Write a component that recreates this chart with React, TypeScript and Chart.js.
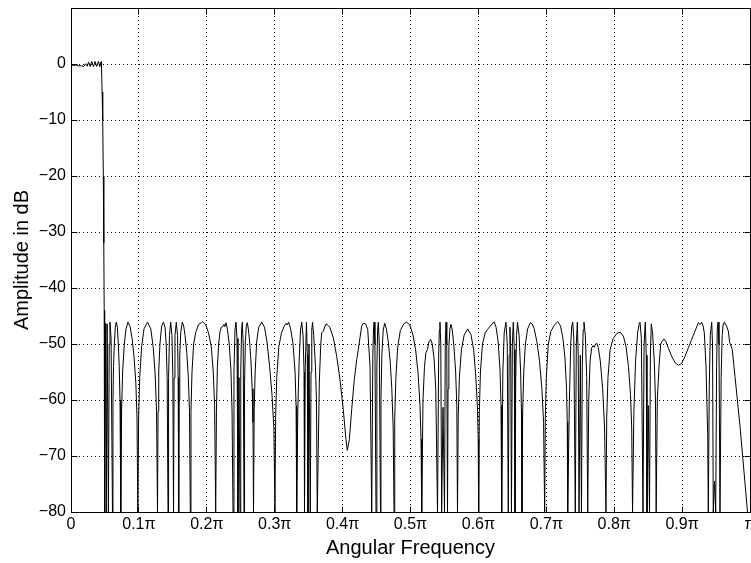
import { useEffect, useRef } from 'react';
import { Chart, registerables } from 'chart.js';

Chart.register(...registerables);

type Pt = [number, number]; // [normalized frequency (×π rad/sample), magnitude in dB]

const passband: Pt[] = [
  [0.0, -0.2], [0.004, -0.25], [0.008, -0.2], [0.0115, -0.35], [0.015, -0.3],
  [0.0185, -0.45], [0.0215, 0.05], [0.024, -0.4], [0.0258, 0.35], [0.0282, -0.45],
  [0.0305, 0.45], [0.033, -0.45], [0.0354, 0.45], [0.0378, -0.45], [0.0403, 0.45],
  [0.0425, -0.45], [0.0442, 0.4],
];

const transitionBand: Pt[] = [
  [0.045, -1], [0.0458, -5], [0.0467, -10], [0.0476, -20], [0.0483, -32],
  [0.0489, -44], [0.0492, -46],
];

const stopbandLow: Pt[] = [
  [0.0499, -80], [0.051, -46.3], [0.052, -80], [0.0532, -46.4], [0.0551, -80],
  [0.0563, -50], [0.0574, -46.1], [0.059, -49], [0.0611, -80],
  [0.0618, -60], [0.0626, -54], [0.0638, -50], [0.0652, -47], [0.0667, -46.1], [0.0683, -47],
  [0.0697, -50], [0.071, -54], [0.0722, -60], [0.0733, -80],
  [0.0745, -62], [0.076, -55], [0.0785, -50], [0.081, -47.3], [0.0839, -46.1], [0.087, -46.9],
  [0.09, -49], [0.093, -52.5], [0.0955, -57], [0.0972, -63], [0.0984, -80],
  [0.0996, -63], [0.1012, -56], [0.104, -50.5], [0.1075, -47.3], [0.1127, -46.1], [0.1175, -47.3],
  [0.121, -50.5], [0.124, -55.5], [0.126, -62], [0.1274, -80],
  [0.1282, -62], [0.1292, -55], [0.131, -50], [0.1335, -46.8], [0.1362, -46.1], [0.1385, -47],
  [0.1402, -50], [0.1416, -56], [0.1429, -80],
  [0.1437, -56], [0.145, -48.5], [0.1468, -46.1], [0.1487, -48.5], [0.15, -56], [0.151, -80],
  [0.1518, -56], [0.1531, -48.5], [0.1551, -46.1], [0.1569, -48.5], [0.1578, -56], [0.1586, -80],
  [0.1592, -60], [0.1602, -52], [0.1616, -48], [0.1639, -46.1], [0.166, -46.8], [0.168, -48.5],
  [0.1705, -51.5], [0.1728, -56], [0.1745, -62], [0.1757, -80],
  [0.1767, -62], [0.1782, -55], [0.1806, -50], [0.184, -47.8], [0.188, -46.5], [0.192, -46.2],
  [0.194, -46.0], [0.196, -46.3], [0.1985, -46.6], [0.2025, -48], [0.2066, -50.5], [0.2095, -55],
  [0.2115, -61], [0.2131, -80],
  [0.2142, -62], [0.2156, -54], [0.2175, -50], [0.2195, -47.8], [0.2214, -47], [0.2235, -46.9],
  [0.2253, -46.5], [0.2265, -46.9], [0.2283, -46.2], [0.2305, -47.5], [0.233, -50], [0.2355, -54.5],
  [0.2372, -62], [0.2386, -80],
  [0.24, -55], [0.2415, -47.5], [0.243, -46.1], [0.2445, -49], [0.2459, -80], [0.2474, -56],
  [0.2489, -80], [0.25, -55], [0.2512, -47.5], [0.2523, -46.1], [0.2536, -50], [0.2548, -80],
  [0.2556, -57], [0.2568, -49.5], [0.2582, -46.8], [0.2596, -46.2], [0.2612, -47.3], [0.263, -49.5],
  [0.265, -53], [0.2668, -58], [0.268, -64], [0.2688, -80],
  [0.2698, -62], [0.2712, -55], [0.2735, -49.5], [0.2765, -47], [0.2809, -46.1], [0.285, -47],
  [0.2885, -49.5], [0.2925, -54], [0.296, -59], [0.2988, -65], [0.3004, -80],
  [0.3014, -63], [0.303, -56], [0.306, -50.5], [0.31, -48], [0.314, -46.8], [0.317, -46.3],
  [0.3185, -46.6], [0.3205, -46.1], [0.3235, -47.3], [0.327, -50], [0.33, -55], [0.3315, -61],
  [0.3324, -80],
  [0.334, -62], [0.336, -53], [0.338, -47.5], [0.3398, -46.1], [0.3418, -48.5], [0.3432, -55],
  [0.3439, -80], [0.345, -54], [0.3468, -46.1], [0.348, -52], [0.349, -80], [0.3505, -50],
  [0.3524, -80], [0.3535, -55], [0.3546, -47.5], [0.3557, -46.1], [0.3575, -48.5], [0.36, -54],
  [0.3615, -60], [0.3627, -80],
];

const stopbandMid: Pt[] = [
  [0.3657, -57], [0.3677, -50.4], [0.3692, -48], [0.3716, -47.7], [0.3741, -46.8], [0.3756, -46.4],
  [0.3789, -46.7], [0.3814, -47.1], [0.3863, -48.9], [0.3913, -52.2], [0.3962, -56.4], [0.401, -61.7],
  [0.405, -67.1], [0.4069, -69], [0.4099, -67.1], [0.4134, -61.7], [0.4172, -56.4], [0.4208, -52.8],
  [0.4231, -51], [0.4256, -48.9], [0.4281, -46.8], [0.4305, -46.3], [0.434, -46.4], [0.437, -47.4],
  [0.4404, -54], [0.4429, -80],
  [0.4445, -52], [0.4455, -47.5], [0.4463, -46.1], [0.4476, -50], [0.4492, -80], [0.4505, -54],
  [0.4516, -47.5], [0.4526, -46.1], [0.454, -50], [0.4558, -80],
  [0.4565, -60], [0.4578, -52], [0.4598, -47.5], [0.462, -46.3], [0.4645, -47.3], [0.4672, -49.5],
  [0.47, -53], [0.4725, -58], [0.4745, -65], [0.4757, -80],
  [0.4768, -63], [0.4785, -56], [0.4812, -50.5], [0.485, -47.6], [0.49, -46.4], [0.4944, -46.1],
  [0.499, -46.6], [0.5035, -48.3], [0.5075, -51], [0.511, -55], [0.514, -61], [0.5155, -67],
  [0.5165, -80],
  [0.5184, -60], [0.5206, -54], [0.5228, -51.5], [0.525, -51], [0.5272, -49.6], [0.5297, -49.2],
  [0.5321, -50], [0.5346, -52.5], [0.5372, -58], [0.5398, -80],
  [0.5415, -52], [0.5425, -47.5], [0.5434, -46.1], [0.5446, -50], [0.5459, -80], [0.5479, -61.3],
  [0.5501, -80], [0.5512, -50], [0.5523, -46.1], [0.5534, -50], [0.5545, -80],
  [0.5553, -58], [0.5565, -50.5], [0.558, -47.3], [0.5596, -46.5], [0.5615, -47.5], [0.564, -50.5],
  [0.5665, -55], [0.5682, -61], [0.5692, -80],
  [0.5703, -63], [0.572, -56], [0.575, -51], [0.579, -48.4], [0.5842, -47.3], [0.589, -48.3],
  [0.593, -51], [0.596, -55.5], [0.5985, -61], [0.5997, -67], [0.6004, -80],
  [0.6014, -62], [0.603, -55], [0.606, -50], [0.61, -48], [0.6135, -47.4], [0.616, -47],
  [0.619, -46.6], [0.6215, -46.2], [0.6234, -46.1], [0.626, -47], [0.629, -49.5], [0.6318, -54.5],
  [0.6333, -61], [0.6343, -80],
  [0.636, -55], [0.638, -48], [0.6406, -46.1], [0.6425, -50], [0.644, -80], [0.6453, -52],
  [0.6465, -47], [0.6476, -52], [0.6487, -80], [0.65, -50], [0.6514, -46.1], [0.6528, -51],
  [0.6539, -80], [0.655, -56], [0.6562, -48.5], [0.6576, -46.1], [0.66, -48.5], [0.6622, -55],
  [0.6634, -62], [0.6642, -80],
];

const stopbandHigh: Pt[] = [
  [0.6652, -62], [0.6668, -55], [0.6692, -50], [0.6725, -47.3], [0.6765, -46.2], [0.679, -46.4],
  [0.682, -47.2], [0.686, -49.5], [0.69, -53], [0.6935, -58], [0.696, -64], [0.6976, -80],
  [0.6986, -63], [0.7, -56], [0.7028, -50.2], [0.7065, -47.8], [0.711, -46.8], [0.715, -46.2],
  [0.717, -46.0], [0.719, -46.4], [0.721, -46.8], [0.7245, -49], [0.7275, -52.5], [0.7298, -58],
  [0.7309, -64], [0.7315, -80],
  [0.734, -60], [0.736, -50], [0.7375, -46.8], [0.7389, -46.1], [0.7405, -49], [0.7427, -80],
  [0.7442, -50], [0.7457, -46.1], [0.747, -52], [0.7482, -80], [0.7501, -52], [0.7518, -80],
  [0.753, -54], [0.7543, -47.5], [0.7555, -46.1], [0.7575, -48.5], [0.7595, -56], [0.761, -80],
  [0.7625, -60], [0.7645, -53], [0.7668, -50.7], [0.7688, -50.3], [0.7705, -50.6], [0.7725, -50],
  [0.7745, -49.9], [0.7765, -50.6], [0.7795, -53], [0.783, -58], [0.7858, -65], [0.7879, -80],
  [0.789, -63], [0.7908, -56], [0.794, -51], [0.7985, -49], [0.804, -48.1], [0.809, -47.9],
  [0.8135, -48.6], [0.8175, -50.5], [0.821, -54], [0.824, -59], [0.8258, -65], [0.827, -80],
  [0.829, -62], [0.8315, -53], [0.8345, -48], [0.837, -46.3], [0.838, -46.1], [0.84, -49],
  [0.8424, -80], [0.844, -50], [0.8458, -46.1], [0.8472, -52], [0.8483, -80], [0.8502, -61],
  [0.852, -80], [0.8533, -52], [0.8546, -46.4], [0.8565, -48], [0.859, -53], [0.8608, -60],
  [0.8618, -80],
  [0.8635, -60], [0.866, -54], [0.8685, -50], [0.8708, -49.5], [0.8733, -49.1], [0.8759, -49.5],
  [0.88, -50.8], [0.885, -52.3], [0.89, -53.4], [0.8944, -53.8], [0.899, -53.5], [0.9043, -52.2],
  [0.9095, -50.6], [0.9141, -49.2], [0.919, -47.7], [0.9239, -46.2], [0.9264, -46.5], [0.9289, -46.1],
  [0.931, -46.8], [0.9327, -48], [0.9352, -54], [0.9377, -66], [0.9386, -80],
  [0.94, -58], [0.9415, -48.5], [0.9436, -46.1], [0.9448, -50], [0.9459, -80], [0.9477, -74.5],
  [0.9495, -80], [0.9508, -54], [0.9518, -47.5], [0.9529, -46.1], [0.9543, -50], [0.9558, -80],
  [0.9575, -56], [0.959, -48.5], [0.9605, -46.5], [0.9617, -46.1], [0.9635, -46.3], [0.9655, -46.8],
  [0.9681, -47.7], [0.97, -49.7], [0.9712, -50], [0.9739, -51], [0.9779, -55.8], [0.9853, -64.7],
  [0.9926, -74.8], [0.9963, -80], [1.0, -88],
];

const freqTickLabels = ['0', '0.1π', '0.2π', '0.3π', '0.4π', '0.5π', '0.6π', '0.7π', '0.8π', '0.9π', 'π'];
const ampTickValues = [-80, -70, -60, -50, -40, -30, -20, -10, 0];

const FONT = "'Liberation Sans', Arial, Helvetica, sans-serif";

// Solid axes box with short inward tick marks on all four sides.
const axesBox = {
  id: 'axesBox',
  afterDraw(chart: Chart) {
    const { ctx, chartArea } = chart;
    const { left, right, top, bottom } = chartArea;
    const xs = chart.scales.x;
    const ys = chart.scales.y;
    const a = (v: number) => Math.round(v - 0.5) + 0.5;
    const len = 6;
    ctx.save();
    ctx.strokeStyle = '#000';
    ctx.lineWidth = 1;
    ctx.setLineDash([]);
    ctx.beginPath();
    ctx.rect(a(left), a(top), a(right) - a(left), a(bottom) - a(top));
    for (const t of xs.ticks) {
      const px = a(xs.getPixelForValue(t.value));
      ctx.moveTo(px, a(bottom));
      ctx.lineTo(px, a(bottom) - len);
      ctx.moveTo(px, a(top));
      ctx.lineTo(px, a(top) + len);
    }
    for (const t of ys.ticks) {
      const py = a(ys.getPixelForValue(t.value));
      ctx.moveTo(a(left), py);
      ctx.lineTo(a(left) + len, py);
      ctx.moveTo(a(right), py);
      ctx.lineTo(a(right) - len, py);
    }
    ctx.stroke();
    ctx.restore();
  },
};

// Fixed axis sizes, and no extra room reserved for the outermost tick labels.
const fixAxis = (size: { width?: number; height?: number }) => (s: any) => {
  if (size.width !== undefined) s.width = size.width;
  if (size.height !== undefined) s.height = size.height;
  s.paddingLeft = 0;
  s.paddingRight = 0;
  s.paddingTop = 0;
  s.paddingBottom = 0;
};

export default function App() {
  const canvasRef = useRef<HTMLCanvasElement>(null);

  useEffect(() => {
    const canvas = canvasRef.current;
    if (!canvas) return;
    const points = [...passband, ...transitionBand, ...stopbandLow, ...stopbandMid, ...stopbandHigh].map(
      ([x, y]) => ({ x, y })
    );

    const chart = new Chart(canvas, {
      type: 'line',
      data: {
        datasets: [
          {
            data: points,
            borderColor: '#000',
            borderWidth: 1,
            borderJoinStyle: 'round',
            pointRadius: 0,
            tension: 0,
            fill: false,
          },
        ],
      },
      options: {
        animation: false,
        responsive: false,
        devicePixelRatio: 1,
        layout: { padding: { top: 8, right: 1, left: 0, bottom: 0 }, autoPadding: false },
        plugins: { legend: { display: false }, tooltip: { enabled: false } },
        scales: {
          x: {
            type: 'linear',
            min: 0,
            max: 1,
            afterFit: fixAxis({ height: 51 }),
            ticks: {
              stepSize: 0.1,
              autoSkip: false,
              maxRotation: 0,
              padding: 2.5,
              color: '#000',
              font: { family: FONT, size: 16 },
              callback: (v: any) => freqTickLabels[Math.round(Number(v) * 10)] ?? '',
            },
            grid: { color: '#000', lineWidth: 1, drawTicks: false },
            border: { display: false, dash: [1, 3] },
            title: {
              display: true,
              text: 'Angular Frequency',
              color: '#000',
              font: { family: FONT, size: 20 },
              padding: { top: 0, bottom: 3 },
            },
          },
          y: {
            type: 'linear',
            min: -80,
            max: 10,
            afterFit: fixAxis({ width: 71 }),
            ticks: {
              stepSize: 10,
              autoSkip: false,
              padding: 5,
              color: '#000',
              font: { family: FONT, size: 16 },
              callback: (v: any) =>
                ampTickValues.includes(Number(v)) ? String(v).replace('-', '\u2212') : '',
            },
            grid: { color: '#000', lineWidth: 1, drawTicks: false },
            border: { display: false, dash: [1, 3] },
            title: {
              display: true,
              text: 'Amplitude in dB',
              color: '#000',
              font: { family: FONT, size: 20 },
              padding: { top: 10, bottom: 0 },
            },
          },
        },
      },
      plugins: [axesBox],
    });

    return () => chart.destroy();
  }, []);

  return (
    <div style={{ position: 'fixed', left: 0, top: 0, width: 751, height: 563, background: '#fff' }}>
      <canvas ref={canvasRef} width={751} height={563} style={{ width: 751, height: 563, display: 'block' }} />
    </div>
  );
}
